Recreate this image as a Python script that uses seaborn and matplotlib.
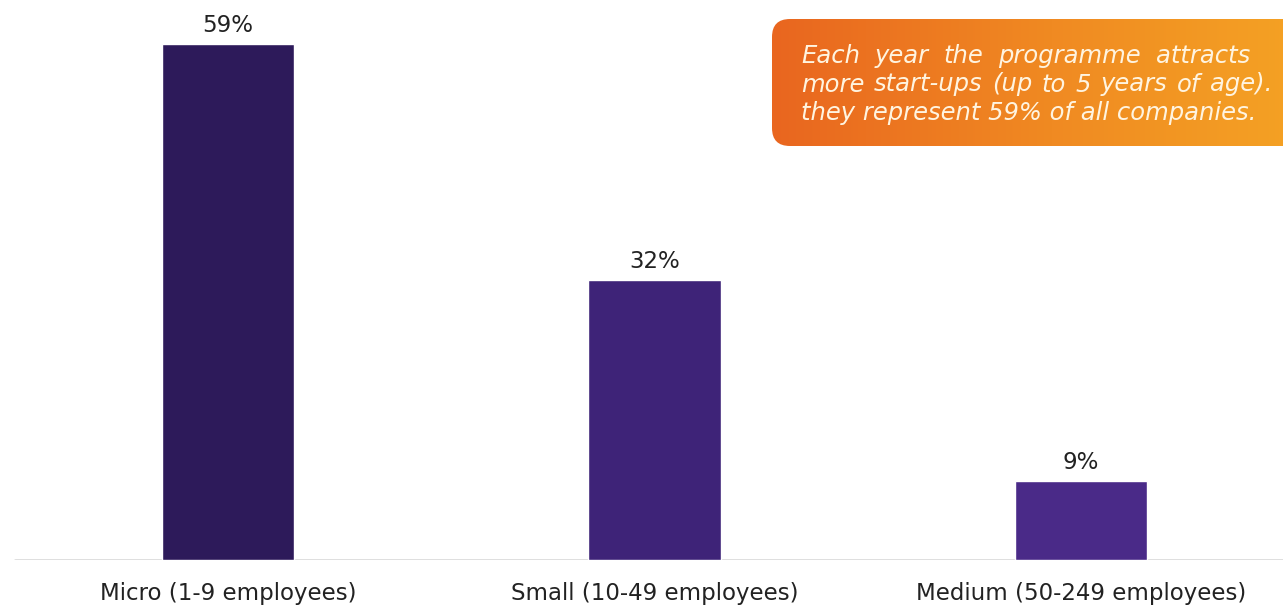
import matplotlib
matplotlib.use("Agg")
import matplotlib.pyplot as plt
import seaborn as sns
import pandas as pd
import numpy as np
from matplotlib.patches import FancyBboxPatch

# Data
categories = ["Micro (1-9 employees)", "Small (10-49 employees)", "Medium (50-249 employees)"]
shares = [59, 32, 9]
bar_colors = ["#2d1a5a", "#3e2378", "#4a2a88"]
callout_lines = [
    "Each year the programme attracts",
    "more start-ups (up to 5 years of age).",
    "they represent 59% of all companies.",
]
# right edge of each justified line (None = last line, left aligned)
line_ends = [1250, 1272, None]

df = pd.DataFrame({"Size": categories, "Share": shares})

sns.set_style("white")
plt.rcParams["font.family"] = ["DejaVu Sans"]

fig = plt.figure(figsize=(12.83, 6.11), dpi=100)
W, H = 1283, 611
ax = fig.add_axes([0, 51 / H, 1, 560 / H])

sns.barplot(data=df, x="Size", y="Share", hue="Size", palette=bar_colors,
            width=0.31, legend=False, ax=ax, saturation=1)

ax.set_xlim(-228 / 426.5, (W - 228) / 426.5)
ax.set_ylim(0, 64)

# value labels
for i, v in enumerate(shares):
    ax.text(i, v + 1.4, f"{v}%", ha="center", va="baseline", fontsize=16.5, color="#222222")

# baseline
ax.axhline(0, xmin=15 / W, xmax=1, color="#dcdcdc", lw=2, zorder=0)

sns.despine(ax=ax, left=True, bottom=True, top=True, right=True)
ax.set_yticks([])
ax.set_xlabel("")
ax.set_ylabel("")
ax.tick_params(axis="x", length=0, pad=16, labelsize=16.5, labelcolor="#222222")
ax.patch.set_alpha(0)

# orange callout box with gradient
ov = fig.add_axes([0, 0, 1, 1])
ov.set_xlim(0, W)
ov.set_ylim(H, 0)
ov.axis("off")
ov.patch.set_alpha(0)
box = FancyBboxPatch((772, 19), 560, 127, boxstyle="round,pad=0,rounding_size=18",
                     facecolor="none", edgecolor="none", transform=ov.transData)
ov.add_patch(box)
grad = np.linspace(0, 1, 256).reshape(1, -1)
cmap = matplotlib.colors.LinearSegmentedColormap.from_list("org", ["#e9661f", "#f08a22", "#f5a524"])
im = ov.imshow(grad, extent=[772, 1332, 146, 19], cmap=cmap, aspect="auto", zorder=1)
im.set_clip_path(box)

# justified callout text: place words one by one
renderer = fig.canvas.get_renderer()
txt_kw = dict(ha="left", va="baseline", fontsize=17.5, style="italic", color="#fff4e0", zorder=2)
x0 = 801
for k, line in enumerate(callout_lines):
    y = 63 + k * 28.5
    if line_ends[k] is None:
        ov.text(x0, y, line, **txt_kw)
        continue
    words = line.split(" ")
    arts = [ov.text(x0, y, w, **txt_kw) for w in words]
    widths = [a.get_window_extent(renderer).width for a in arts]
    gap = (line_ends[k] - x0 - sum(widths)) / (len(words) - 1)
    x = x0
    for a, w in zip(arts, widths):
        a.set_x(x)
        x += w + gap

fig.savefig("out.png", dpi=100)
